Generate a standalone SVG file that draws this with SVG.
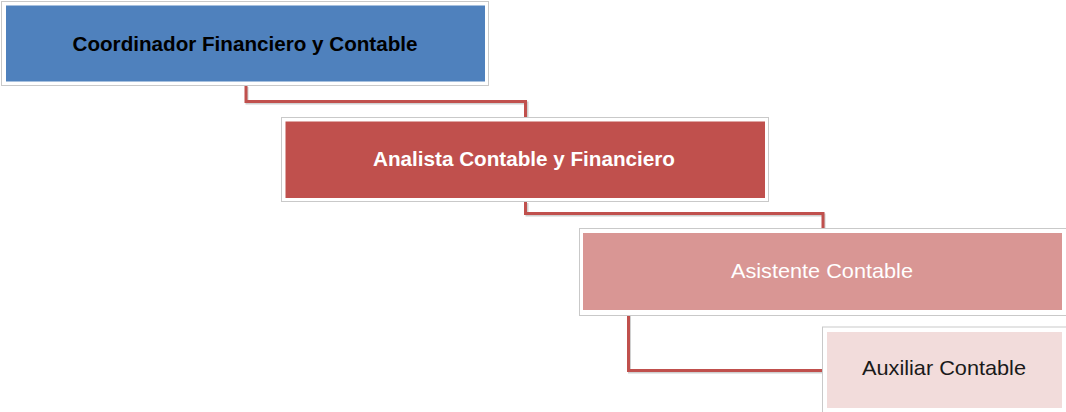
<svg xmlns="http://www.w3.org/2000/svg" width="1066" height="412" viewBox="0 0 1066 412">
<style>
.frame{fill:#ffffff;stroke:#c9c9c9;stroke-width:1}
.lbl{font-family:"Liberation Sans",Arial,sans-serif;font-size:21px;text-anchor:middle}
.b{font-weight:bold}
.conn{fill:none;stroke:#c0504d;stroke-width:3;stroke-linejoin:miter}
.shadow{fill:none;stroke:#d0d0d0;stroke-width:3}
</style>
<rect width="1066" height="412" fill="#ffffff"/>
<g id="connectors">
<path class="shadow" d="M247,87 V103 H527 V118"/>
<path class="conn" d="M246,86 V101.5 H525.5 V117"/>
<path class="shadow" d="M527,203 V215 H824 V229"/>
<path class="conn" d="M525.5,202 V213.5 H823 V228"/>
<path class="shadow" d="M629.5,316 V372 H823"/>
<path class="conn" d="M628.5,315 V370.5 H823"/>
</g>
<g id="node1">
<rect class="frame" x="1.5" y="1.5" width="487" height="84"/>
<rect x="6" y="5.5" width="479" height="76" fill="#4f81bd"/>
<text class="lbl b" x="245" y="51" fill="#000000" textLength="345" lengthAdjust="spacingAndGlyphs">Coordinador Financiero y Contable</text>
</g>
<g id="node2">
<rect class="frame" x="281.5" y="117.5" width="487" height="84"/>
<rect x="285.5" y="121.5" width="479.5" height="76.5" fill="#c0504d"/>
<text class="lbl b" x="524" y="166" fill="#ffffff" textLength="302" lengthAdjust="spacingAndGlyphs">Analista Contable y Financiero</text>
</g>
<g id="node3">
<rect class="frame" x="579.5" y="228.5" width="490" height="87"/>
<rect x="583" y="233" width="479" height="77" fill="#d99694"/>
<text class="lbl" x="822" y="278" fill="#ffffff" textLength="182" lengthAdjust="spacingAndGlyphs">Asistente Contable</text>
</g>
<g id="node4">
<rect class="frame" x="822.5" y="327" width="246" height="90"/>
<rect x="827" y="332" width="235" height="76" fill="#f2dcdb"/>
<text class="lbl" x="944" y="375" fill="#1a1a1a" textLength="164" lengthAdjust="spacingAndGlyphs">Auxiliar Contable</text>
</g>
</svg>
